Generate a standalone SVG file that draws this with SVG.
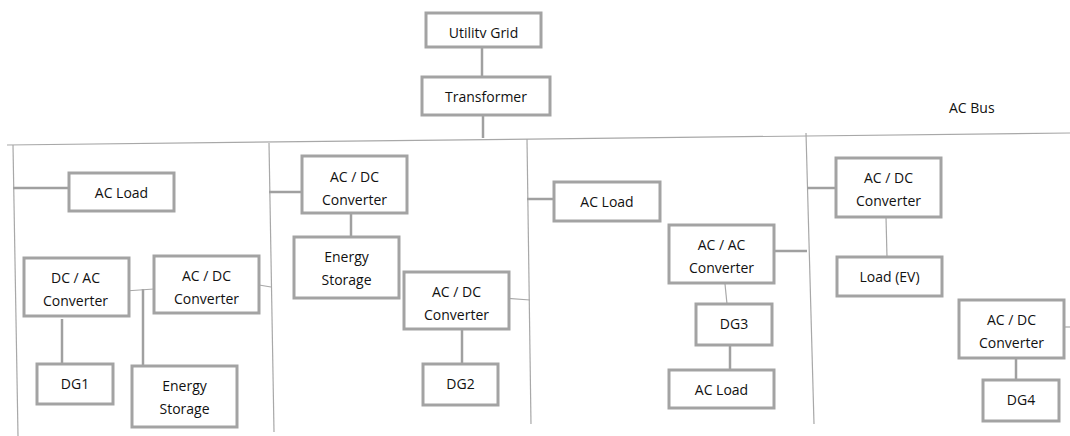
<svg xmlns="http://www.w3.org/2000/svg" width="1070" height="436" viewBox="0 0 1070 436">
<style>
.box{fill:#fff;stroke:#a3a3a3;stroke-width:3}
.t{font-family:"Open Sans","Liberation Sans",sans-serif;font-size:14px;fill:#111;text-anchor:middle}
.thick{stroke:#a0a0a0;stroke-width:2.5;fill:none}
.thin{stroke:#a8a8a8;stroke-width:1.2;fill:none}
</style>
<rect width="1070" height="436" fill="#fff"/>
<g id="connectors">
<line class="thin" x1="7" y1="145" x2="1070" y2="133"/>
<line class="thin" x1="13" y1="145" x2="18" y2="436"/>
<line class="thin" x1="269" y1="143" x2="274" y2="432"/>
<line class="thin" x1="527" y1="139" x2="531" y2="424"/>
<line class="thin" x1="806" y1="133" x2="814" y2="424"/>
<line class="thick" x1="482" y1="47" x2="482" y2="77"/>
<line class="thick" x1="483" y1="108" x2="483" y2="138"/>
<line class="thick" x1="13" y1="188" x2="69" y2="188"/>
<line class="thick" x1="269" y1="192" x2="302" y2="192"/>
<line class="thick" x1="351" y1="213" x2="351" y2="238"/>
<line class="thick" x1="62" y1="319" x2="62" y2="368"/>
<line class="thick" x1="143" y1="289" x2="143" y2="368"/>
<line class="thick" x1="462" y1="323" x2="462" y2="364"/>
<line class="thick" x1="527" y1="199" x2="554" y2="199"/>
<line class="thick" x1="772" y1="251" x2="807" y2="251"/>
<line class="thick" x1="730" y1="345" x2="730" y2="370"/>
<line class="thick" x1="807" y1="188" x2="836" y2="188"/>
<line class="thick" x1="1016" y1="355" x2="1016" y2="382"/>
<line class="thin" x1="125" y1="291" x2="154" y2="289"/>
<line class="thin" x1="259" y1="285" x2="271" y2="287"/>
<line class="thin" x1="504" y1="298" x2="530" y2="300"/>
<line class="thin" x1="725" y1="284" x2="727" y2="304"/>
<line class="thin" x1="886" y1="217" x2="887" y2="257"/>
<line class="thin" x1="1064" y1="327" x2="1070" y2="327"/>
</g>
<text class="t" x="949" y="113" style="text-anchor:start">AC Bus</text>
<g id="utility-grid"><rect class="box" x="426" y="13" width="115" height="34"/><text class="t" x="483.5" y="38">Utilitv Grid</text></g>
<g id="transformer"><rect class="box" x="422" y="77" width="128" height="38"/><text class="t" x="486" y="102">Transformer</text></g>
<g id="ac-load-1"><rect class="box" x="69" y="173" width="105" height="38"/><text class="t" x="121.5" y="198">AC Load</text></g>
<g id="dc-ac-converter-1"><rect class="box" x="24" y="258" width="105" height="58"/><text class="t" x="75.5" y="283">DC / AC</text><text class="t" x="75.5" y="306">Converter</text></g>
<g id="ac-dc-converter-1"><rect class="box" x="154" y="256" width="105" height="57"/><text class="t" x="206.5" y="281">AC / DC</text><text class="t" x="206.5" y="304">Converter</text></g>
<g id="dg1"><rect class="box" x="37" y="364" width="76" height="40"/><text class="t" x="75" y="389">DG1</text></g>
<g id="energy-storage-1"><rect class="box" x="132" y="366" width="105" height="61"/><text class="t" x="184.5" y="391">Energy</text><text class="t" x="184.5" y="414">Storage</text></g>
<g id="ac-dc-converter-2"><rect class="box" x="302" y="156" width="105" height="57"/><text class="t" x="354.5" y="182">AC / DC</text><text class="t" x="354.5" y="205">Converter</text></g>
<g id="energy-storage-2"><rect class="box" x="294" y="237" width="105" height="61"/><text class="t" x="346.5" y="262">Energy</text><text class="t" x="346.5" y="285">Storage</text></g>
<g id="ac-dc-converter-3"><rect class="box" x="404" y="272" width="105" height="57"/><text class="t" x="456.5" y="297">AC / DC</text><text class="t" x="456.5" y="320">Converter</text></g>
<g id="dg2"><rect class="box" x="423" y="364" width="75" height="41"/><text class="t" x="460.5" y="389">DG2</text></g>
<g id="ac-load-2"><rect class="box" x="554" y="182" width="106" height="39"/><text class="t" x="607" y="207">AC Load</text></g>
<g id="ac-ac-converter"><rect class="box" x="669" y="225" width="105" height="58"/><text class="t" x="721.5" y="250">AC / AC</text><text class="t" x="721.5" y="273">Converter</text></g>
<g id="dg3"><rect class="box" x="696" y="304" width="76" height="41"/><text class="t" x="734" y="329">DG3</text></g>
<g id="ac-load-3"><rect class="box" x="669" y="370" width="105" height="38"/><text class="t" x="721.5" y="395">AC Load</text></g>
<g id="ac-dc-converter-4"><rect class="box" x="836" y="158" width="105" height="59"/><text class="t" x="888.5" y="183">AC / DC</text><text class="t" x="888.5" y="206">Converter</text></g>
<g id="load-ev"><rect class="box" x="837" y="257" width="105" height="39"/><text class="t" x="889.5" y="282">Load (EV)</text></g>
<g id="ac-dc-converter-5"><rect class="box" x="959" y="300" width="105" height="58"/><text class="t" x="1011.5" y="325">AC / DC</text><text class="t" x="1011.5" y="348">Converter</text></g>
<g id="dg4"><rect class="box" x="983" y="380" width="76" height="41"/><text class="t" x="1021" y="405">DG4</text></g>
</svg>
